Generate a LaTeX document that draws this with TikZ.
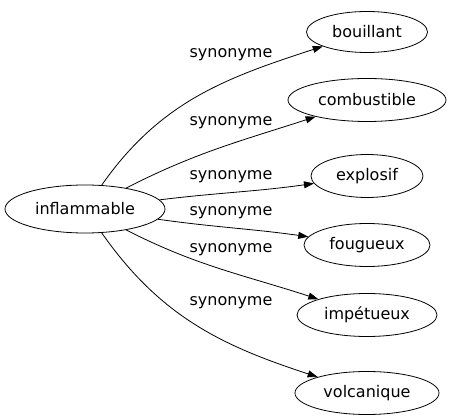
\documentclass[tikz,border=0pt]{standalone}
\usepackage{fontspec}
\setmainfont{DejaVu Sans}
\usepackage{tikz}
\usetikzlibrary{shapes.geometric,arrows.meta,positioning}
\tikzset{
	mot/.style={ellipse,draw,line width=0.8pt,inner sep=0pt,minimum height=43pt,font=\fontsize{16}{18}\selectfont},
	lien/.style={-{Triangle[length=10pt,width=7pt]},line width=0.8pt},
	etiq/.style={font=\fontsize{16}{18}\selectfont}
}
\begin{document}
\begin{tikzpicture}[x=1pt,y=-1pt]
		\useasboundingbox (0,0) rectangle (450,419);
		\node[mot,minimum width=160pt,minimum height=48pt] (infl) at (85,209) {inflammable};
		\node[mot,minimum width=121pt,minimum height=41pt] (bou) at (367,32) {bouillant};
		\node[mot,minimum width=158pt] (com) at (367,100) {combustible};
		\node[mot,minimum width=112pt] (exp) at (367,176) {explosif};
		\node[mot,minimum width=126pt] (fou) at (367,245) {fougueux};
		\node[mot,minimum width=140pt] (imp) at (367,315) {impétueux};
		\node[mot,minimum width=144pt] (vol) at (367,393) {volcanique};
		% etiquettes
		\node[etiq] (s1) at (231,55) {synonyme};
		\node[etiq] (s2) at (231,123) {synonyme};
		\node[etiq] (s3) at (231,177) {synonyme};
		\node[etiq] (s4) at (231,213) {synonyme};
		\node[etiq] (s5) at (231,250) {synonyme};
		\node[etiq] (s6) at (231,303) {synonyme};
		% aretes
		\draw[lien] (infl) to[out=55,in=198] (bou);
		\draw[lien] (infl) to[out=27,in=198] (com);
		\draw[lien] (infl) to[out=7,in=188] (exp);
		\draw[lien] (infl) to[out=-8,in=172] (fou);
		\draw[lien] (infl) to[out=-27,in=162] (imp);
		\draw[lien] (infl) to[out=-55,in=162] (vol);
	\end{tikzpicture}
\end{document}
